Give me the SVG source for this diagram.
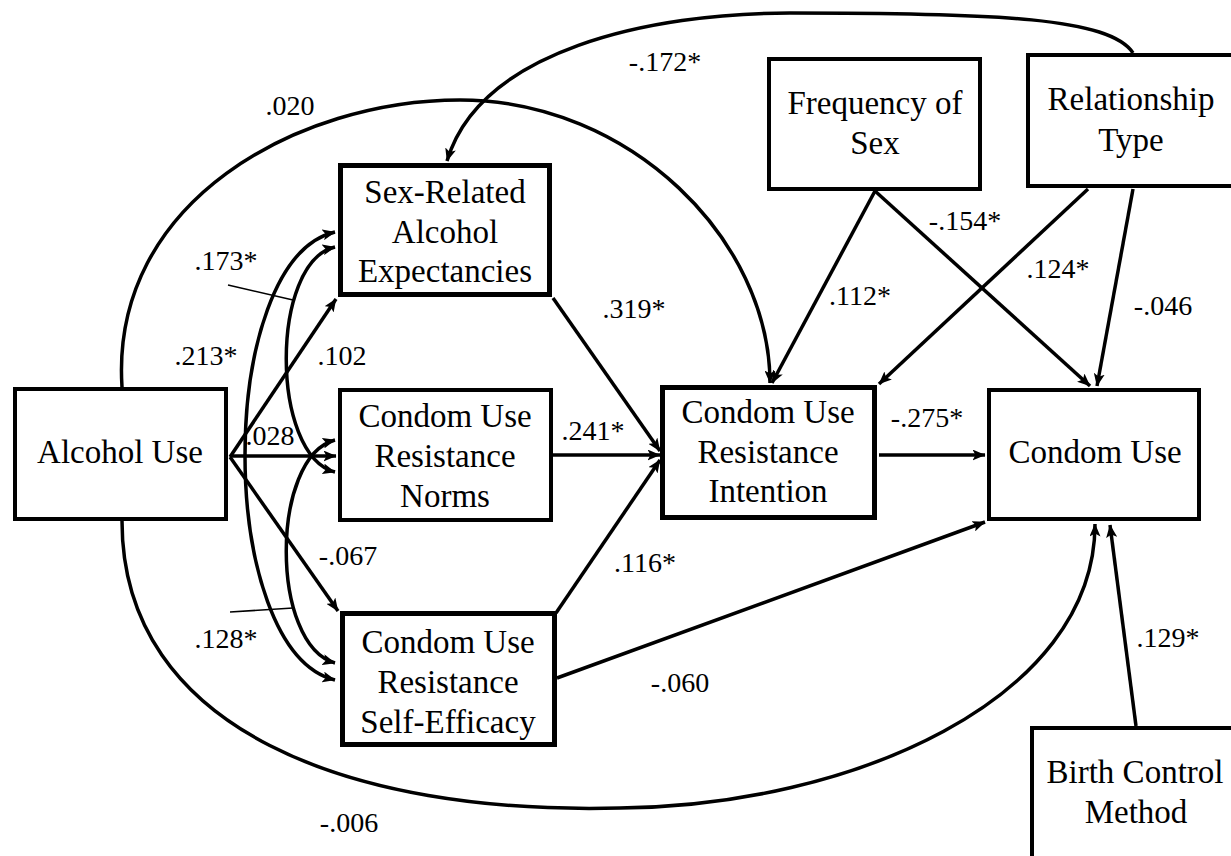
<svg xmlns="http://www.w3.org/2000/svg" width="1231" height="856" viewBox="0 0 1231 856">
<style>
.box{fill:#fff;stroke:#000;stroke-width:4}
.thick{stroke-width:5}
.t{font-family:"Liberation Serif","Times New Roman",serif;font-size:33px;text-anchor:middle;fill:#000}
.l{font-family:"Liberation Serif","Times New Roman",serif;font-size:28px;text-anchor:middle;fill:#000}
.c{fill:none;stroke:#000;stroke-width:3.5;marker-end:url(#ah)}
.d{marker-start:url(#ah)}
.lead{fill:none;stroke:#000;stroke-width:1.6}
</style>
<defs>
<marker id="ah" viewBox="0 0 13 11" refX="12.5" refY="5.5" markerWidth="13" markerHeight="11" markerUnits="userSpaceOnUse" orient="auto-start-reverse">
<path d="M0,0 L13,5.5 L0,11 L3,5.5 Z" fill="#000"/>
</marker>
</defs>
<rect width="1231" height="856" fill="#fff"/>
<g id="connectors">
<path class="c" d="M1133,53 C1110,18 1000,13 790,13 C650,13 480,50 447,161"/>
<path class="c" d="M122,387 C110,200 300,100 460,100 C630,100 770,240 770,383"/>
<path class="c" d="M122,521 C122,730 350,815 620,808 C850,806 1095,700 1095,524"/>
<path class="c" d="M230,457 L336,299"/>
<path class="c" d="M230,456 L336,456"/>
<path class="c" d="M230,457 L338,611"/>
<path class="c d" d="M335,247 C270,262 270,455 335,472"/>
<path class="c d" d="M335,440 C270,457 270,645 335,663"/>
<path class="c d" d="M335,232 C215,260 215,650 335,680"/>
<path class="lead" d="M228,285 L293,300"/>
<path class="lead" d="M230,612 L293,608"/>
<path class="c" d="M553,298 L660,451"/>
<path class="c" d="M553,455 L660,455"/>
<path class="c" d="M556,613 L660,460"/>
<path class="c" d="M875,191 L772,383"/>
<path class="c" d="M875,191 L1090,386"/>
<path class="c" d="M1088,189 L879,384"/>
<path class="c" d="M1133,189 L1097,386"/>
<path class="c" d="M879,455 L985,455"/>
<path class="c" d="M557,678 L985,522"/>
<path class="c" d="M1136,726 L1110,525"/>
</g>
<g id="labels">
<text class="l" x="290" y="115">.020</text>
<text class="l" x="665" y="71">-.172*</text>
<text class="l" x="226" y="270">.173*</text>
<text class="l" x="206" y="365">.213*</text>
<text class="l" x="342" y="365">.102</text>
<text class="l" x="270" y="445">.028</text>
<text class="l" x="348" y="565">-.067</text>
<text class="l" x="226" y="648">.128*</text>
<text class="l" x="349" y="832">-.006</text>
<text class="l" x="634" y="318">.319*</text>
<text class="l" x="593" y="440">.241*</text>
<text class="l" x="645" y="572">.116*</text>
<text class="l" x="680" y="692">-.060</text>
<text class="l" x="860" y="305">.112*</text>
<text class="l" x="965" y="230">-.154*</text>
<text class="l" x="1058" y="278">.124*</text>
<text class="l" x="1163" y="315">-.046</text>
<text class="l" x="927" y="427">-.275*</text>
<text class="l" x="1168" y="647">.129*</text>
</g>
<g id="alcohol-use">
<rect class="box" x="15" y="389" width="211" height="130"/>
<text class="t" x="120" y="463">Alcohol Use</text>
</g>
<g id="sex-related-alcohol-expectancies">
<rect class="box thick" x="340.5" y="165.5" width="209" height="129"/>
<text class="t" x="445" y="203">Sex-Related</text>
<text class="t" x="445" y="243">Alcohol</text>
<text class="t" x="445" y="282">Expectancies</text>
</g>
<g id="resistance-norms">
<rect class="box" x="340" y="390" width="211" height="130"/>
<text class="t" x="445" y="427">Condom Use</text>
<text class="t" x="445" y="467">Resistance</text>
<text class="t" x="445" y="507">Norms</text>
</g>
<g id="resistance-self-efficacy">
<rect class="box thick" x="342.5" y="613.5" width="212" height="131"/>
<text class="t" x="448" y="653">Condom Use</text>
<text class="t" x="448" y="693">Resistance</text>
<text class="t" x="448" y="733">Self-Efficacy</text>
</g>
<g id="resistance-intention">
<rect class="box thick" x="662.5" y="387.5" width="212" height="130"/>
<text class="t" x="768" y="423">Condom Use</text>
<text class="t" x="768" y="463">Resistance</text>
<text class="t" x="768" y="502">Intention</text>
</g>
<g id="condom-use">
<rect class="box" x="989" y="390" width="210" height="129"/>
<text class="t" x="1095" y="463">Condom Use</text>
</g>
<g id="frequency-of-sex">
<rect class="box" x="769" y="59" width="211" height="130"/>
<text class="t" x="875" y="114">Frequency of</text>
<text class="t" x="875" y="154">Sex</text>
</g>
<g id="relationship-type">
<rect class="box" x="1028" y="55" width="212" height="131"/>
<text class="t" x="1131" y="110">Relationship</text>
<text class="t" x="1131" y="151">Type</text>
</g>
<g id="birth-control-method">
<rect class="box" x="1032" y="728" width="212" height="140"/>
<text class="t" x="1135" y="783">Birth Control</text>
<text class="t" x="1136" y="823">Method</text>
</g>
</svg>
